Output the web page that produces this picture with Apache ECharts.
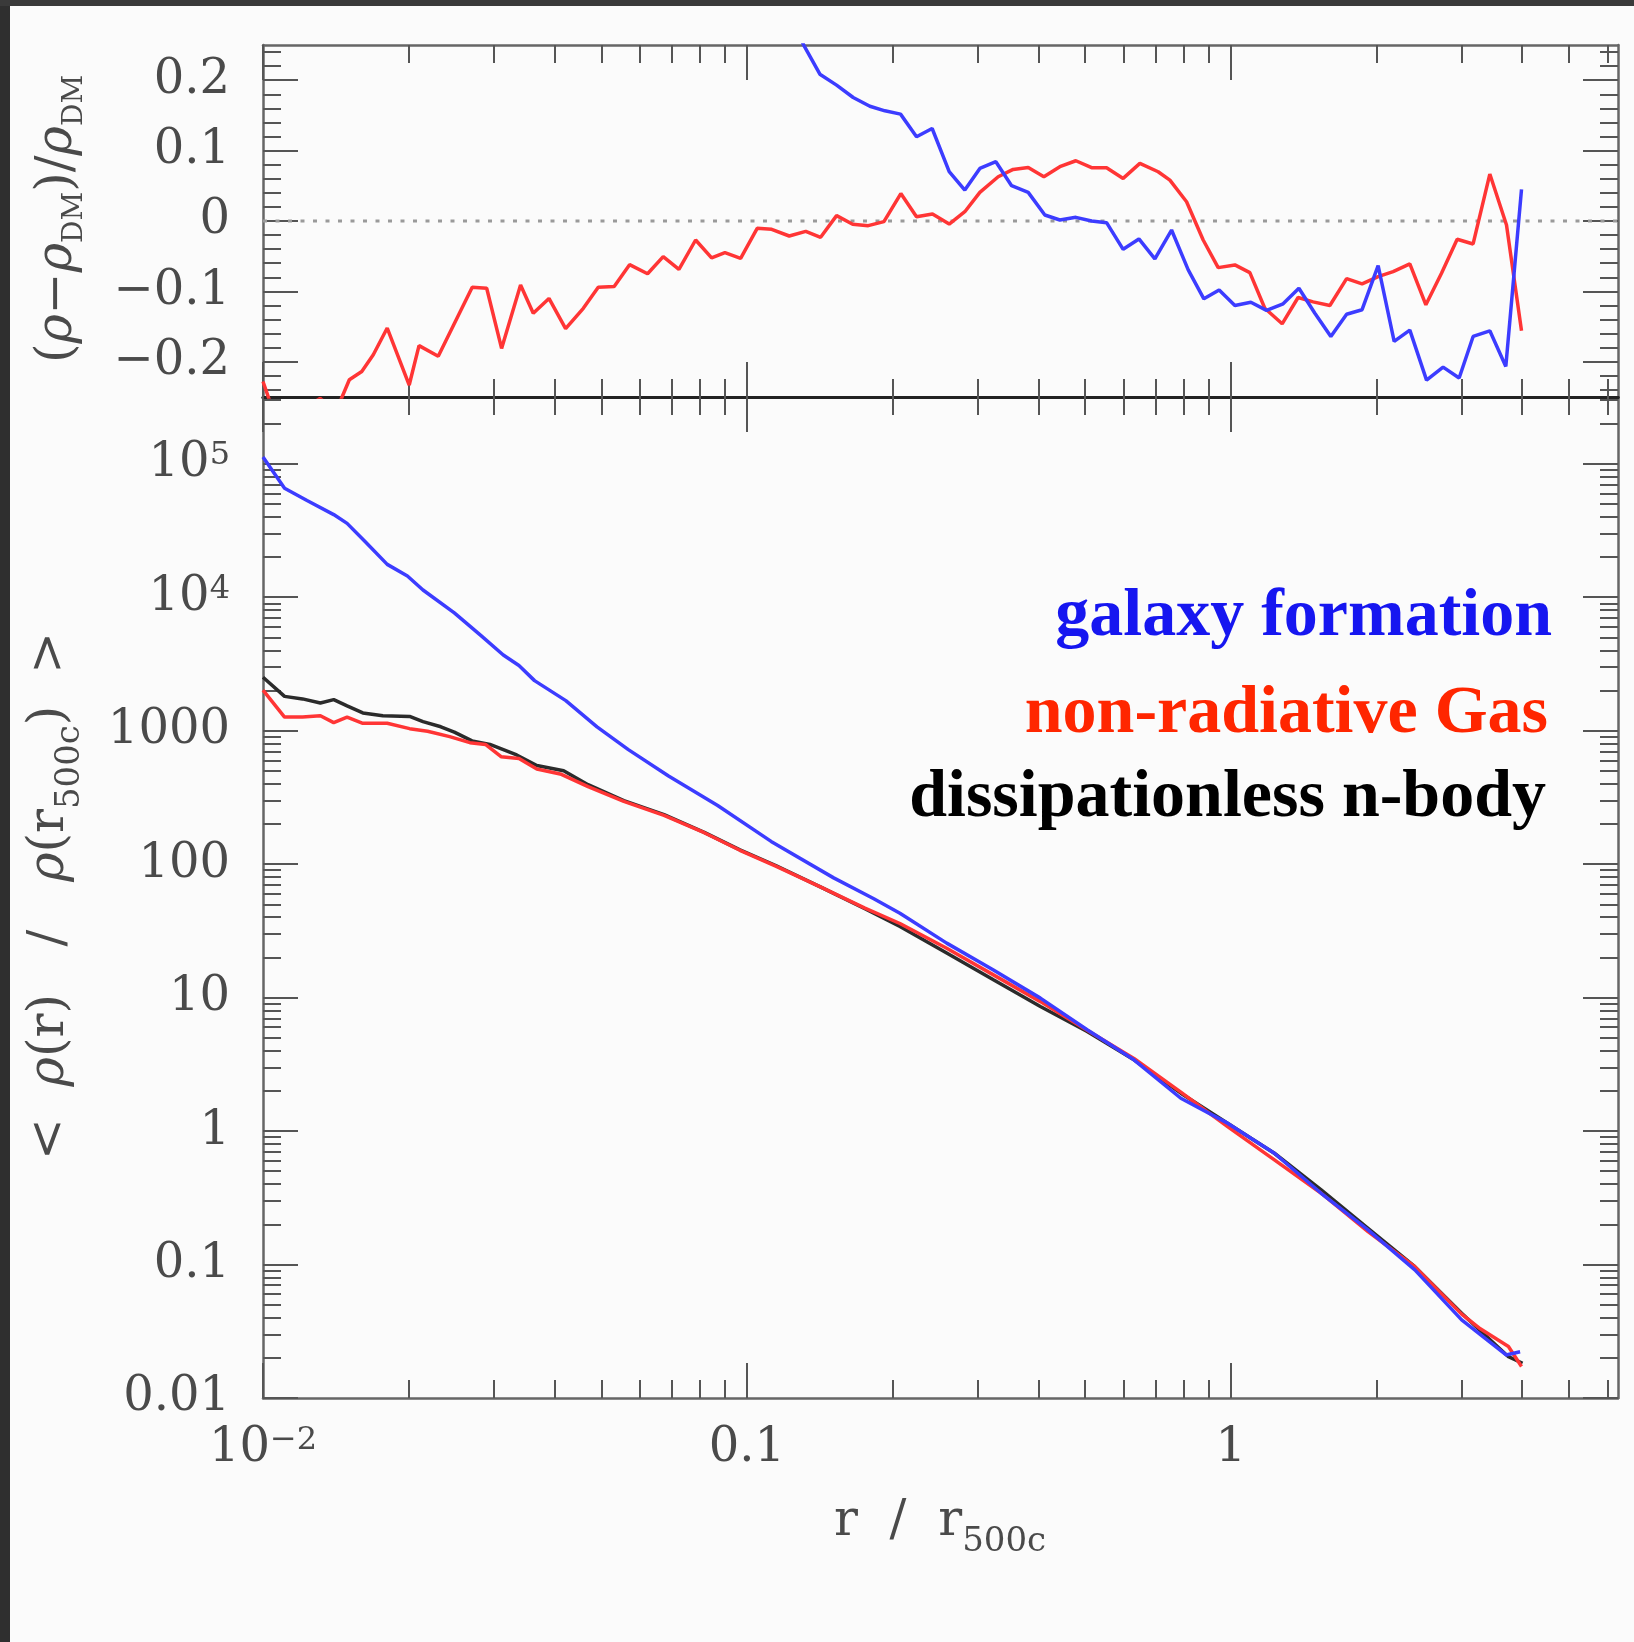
<!DOCTYPE html>
<html>
<head>
<meta charset="utf-8">
<script src="https://cdn.jsdelivr.net/npm/echarts@6/dist/echarts.min.js"></script>
<style>
html,body{margin:0;padding:0;background:#fbfbfb;}
#chart{width:1634px;height:1642px;}
</style>
</head>
<body>
<div id="chart"></div>
<script>
// ---------------- data ----------------
// upper panel: (rho - rho_DM)/rho_DM
const ratioGasR = [0.0100, 0.01074, 0.01192, 0.01312, 0.01416, 0.01508, 0.01600, 0.01690, 0.01806, 0.02005, 0.02101, 0.02302, 0.02706, 0.02899, 0.03112, 0.03406, 0.03618, 0.03899, 0.04220, 0.04591, 0.04929, 0.05317, 0.05721, 0.06233, 0.06714, 0.07236, 0.07834, 0.08453, 0.09006, 0.09705, 0.1050, 0.1125, 0.1223, 0.1323, 0.1420, 0.1532, 0.1654, 0.1781, 0.1919, 0.2080, 0.2241, 0.2418, 0.2618, 0.2820, 0.3029, 0.3305, 0.3549, 0.3813, 0.4108, 0.4432, 0.4783, 0.5155, 0.5536, 0.5990, 0.6486, 0.7075, 0.7482, 0.8100, 0.8766, 0.9415, 1.0193, 1.0946, 1.1753, 1.2764, 1.377, 1.4791, 1.6018, 1.7346, 1.8670, 2.0153, 2.1643, 2.3434, 2.5292, 2.7245, 2.9355, 3.1667, 3.4287, 3.7119, 3.9866];
const ratioGas = [-0.228, -0.29, -0.27, -0.252, -0.27, -0.2255, -0.2137, -0.19, -0.152, -0.233, -0.177, -0.192, -0.094, -0.0955, -0.181, -0.091, -0.131, -0.110, -0.153, -0.124, -0.094, -0.093, -0.062, -0.075, -0.0506, -0.0686, -0.027, -0.0525, -0.045, -0.053, -0.0104, -0.0118, -0.0213, -0.0147, -0.0232, 0.0076, -0.0047, -0.0066, -0.0009, 0.039, 0.0061, 0.0099, -0.0043, 0.0132, 0.0407, 0.0629, 0.0733, 0.0761, 0.0629, 0.0771, 0.0856, 0.0757, 0.0757, 0.0605, 0.0818, 0.070, 0.058, 0.0274, -0.027, -0.0662, -0.0624, -0.0733, -0.1239, -0.146, -0.1087, -0.1149, -0.120, -0.0818, -0.0894, -0.079, -0.0719, -0.061, -0.119, -0.0742, -0.026, -0.0326, 0.0667, -0.0057, -0.156];

const ratioGalR = [0.1210, 0.1311, 0.1415, 0.1532, 0.1658, 0.1795, 0.1928, 0.2077, 0.2241, 0.2414, 0.2618, 0.2820, 0.3029, 0.3269, 0.3523, 0.3813, 0.4127, 0.4432, 0.4783, 0.5155, 0.5536, 0.5990, 0.6457, 0.6966, 0.7542, 0.8164, 0.8795, 0.9458, 1.0193, 1.0998, 1.1852, 1.2823, 1.3823, 1.4914, 1.6092, 1.7346, 1.867, 2.0153, 2.1749, 2.3434, 2.5374, 2.7453, 2.9632, 3.1667, 3.4287, 3.6999, 3.9866];
const ratioGal = [0.30, 0.2496, 0.2085, 0.193, 0.1754, 0.163, 0.1565, 0.1518, 0.1196, 0.1314, 0.070, 0.044, 0.0747, 0.0842, 0.0501, 0.0407, 0.0085, 0.0014, 0.0052, 0.0, -0.0024, -0.0402, -0.0255, -0.0539, -0.0128, -0.0695, -0.1106, -0.0979, -0.120, -0.1154, -0.127, -0.1177, -0.0955, -0.131, -0.164, -0.1324, -0.126, -0.0634, -0.171, -0.155, -0.226, -0.2076, -0.223, -0.164, -0.156, -0.2066, 0.0449];

// lower panel: <rho(r)/rho(r500c)>
const nbodyR = [0.0100, 0.01108, 0.01207, 0.01314, 0.01400, 0.01492, 0.01608, 0.01769, 0.02009, 0.02141, 0.02331, 0.02485, 0.02704, 0.02944, 0.03344, 0.03680, 0.04181, 0.04696, 0.05567, 0.06741, 0.08162, 0.09672, 0.1147, 0.1418, 0.1753, 0.2071, 0.2587, 0.3231, 0.4040, 0.5047, 0.6306, 0.7882, 0.9844, 1.2301, 1.5369, 1.9205, 2.3999, 2.9988, 3.7462, 4.006];
const nbody = [2512, 1807, 1730, 1611, 1710, 1535, 1358, 1294, 1279, 1169, 1069, 975, 838, 789, 658, 548, 501, 394, 299, 235, 173, 128, 97.7, 67.6, 46.3, 34.1, 21.6, 13.6, 8.57, 5.57, 3.42, 1.923, 1.146, 0.682, 0.362, 0.187, 0.0964, 0.0432, 0.0204, 0.0182];

const gasR = [0.0100, 0.01108, 0.01207, 0.01314, 0.01400, 0.01492, 0.01608, 0.01806, 0.02009, 0.02188, 0.02431, 0.02676, 0.02882, 0.03104, 0.03380, 0.03680, 0.04135, 0.04696, 0.05567, 0.06741, 0.08162, 0.09672, 0.1147, 0.1418, 0.1753, 0.2071, 0.2587, 0.3231, 0.4040, 0.5047, 0.6306, 0.7882, 0.9844, 1.2301, 1.5369, 1.9205, 2.3999, 2.9988, 3.2772, 3.7462, 3.9866];
const gas = [2014, 1265, 1265, 1294, 1148, 1265, 1135, 1135, 1035, 991, 902, 813, 789, 638, 619, 516, 471, 381, 295, 232, 172, 127, 96.6, 67.6, 46.8, 35.9, 23.4, 14.8, 9.33, 5.69, 3.50, 1.96, 1.081, 0.608, 0.342, 0.1766, 0.0964, 0.0425, 0.0330, 0.0243, 0.0172];

const galR = [0.0100, 0.01108, 0.01233, 0.01400, 0.01492, 0.01625, 0.01806, 0.01988, 0.02141, 0.02485, 0.02822, 0.03137, 0.03380, 0.03640, 0.04224, 0.04900, 0.05688, 0.06887, 0.08700, 0.1122, 0.1511, 0.1829, 0.2071, 0.2587, 0.3231, 0.4040, 0.5047, 0.6306, 0.7882, 0.9844, 1.2301, 1.5369, 1.9205, 2.3999, 2.9988, 3.7061, 3.9601];
const gal = [112200, 65460, 52970, 41590, 35730, 26120, 17620, 14420, 11320, 7621, 5152, 3690, 3076, 2371, 1679, 1069, 721, 458, 275, 148, 78.9, 55.0, 42.9, 25.6, 16.1, 9.91, 5.74, 3.42, 1.762, 1.146, 0.682, 0.342, 0.1816, 0.0912, 0.0385, 0.0210, 0.0222];

// tick labels
const xTicks = [0.01, 0.1, 1];
const xTickLabels = ['10|\u22122', '0.1', '1'];
const ratioTicks = [-0.2, -0.1, 0, 0.1, 0.2];
const ratioTickLabels = ['\u22120.2', '\u22120.1', '0', '0.1', '0.2'];
const densTicks = [0.01, 0.1, 1, 10, 100, 1000, 1e4, 1e5];
const densTickLabels = ['0.01', '0.1', '1', '10', '100', '1000', '10|4', '10|5'];

const seriesNames = ['galaxy formation', 'non-radiative Gas', 'dissipationless n-body'];

// ---------------- chart ----------------
const XMIN = 0.01, XMAX = Math.pow(10, 0.8);
const YMIN = 0.01, YMAX = Math.pow(10, 5.5);
const RMIN = -0.25, RMAX = 0.25;

const xMinor = [];
[-2, -1, 0].forEach(k => { for (let m = 2; m <= 9; m++) { const v = m * Math.pow(10, k); if (v <= XMAX) xMinor.push(+v.toPrecision(6)); } });
const yMinor = [];
for (let k = -2; k <= 5; k++) { for (let m = 2; m <= 9; m++) { const v = m * Math.pow(10, k); if (v <= YMAX) yMinor.push(+v.toPrecision(6)); } }
const rMinor = [];
for (let i = -12; i <= 12; i++) { if (i % 5 !== 0) rMinor.push(+(i * 0.02).toFixed(2)); }

const FONT = '"DejaVu Serif", serif';
const TXT = '#4a4a4a';
const TICK = '#555';
const MAJ = 35, MIN = 18;

function fmt(ticks, labels) {
  return function (v) {
    let best = 0, bd = Infinity;
    ticks.forEach((t, i) => {
      const d = t === 0 ? Math.abs(v) : Math.abs(v / t - 1);
      if (d < bd) { bd = d; best = i; }
    });
    const s = labels[best];
    if (s.indexOf('|') >= 0) { const p = s.split('|'); return '{m|' + p[0] + '}{p|' + p[1] + '}'; }
    return '{m|' + s + '}';
  };
}
const labelRich = {
  m: { fontFamily: FONT, fontSize: 48, color: TXT, lineHeight: 70 },
  p: { fontFamily: FONT, fontSize: 32, color: TXT, padding: [0, 0, 16, 0] }
};

function axis(kind, opt) {
  const a = {
    type: opt.type, gridIndex: opt.grid, position: opt.pos,
    min: opt.min, max: opt.max,
    axisLine: opt.line ? { show: true, onZero: false, lineStyle: { color: opt.line.color, width: opt.line.width } } : { show: false, onZero: false },
    splitLine: { show: false },
    axisTick: { show: true, inside: true, length: opt.len, customValues: opt.ticks, lineStyle: { color: TICK, width: 2 } },
    axisLabel: opt.labels ? {
      show: true, customValues: opt.labels.ticks, formatter: fmt(opt.labels.ticks, opt.labels.text),
      margin: opt.labels.margin, rich: labelRich, fontFamily: FONT, fontSize: 48, color: TXT
    } : { show: false },
    silent: true
  };
  if (opt.type === 'log') a.logBase = 10;
  return a;
}

const edge = { color: '#666', width: 2.5 };
const mid = { color: '#222', width: 3 };

const xAxes = [
  axis('x', { type: 'log', grid: 0, pos: 'bottom', min: XMIN, max: XMAX, len: MAJ, ticks: xTicks, line: mid }),
  axis('x', { type: 'log', grid: 0, pos: 'bottom', min: XMIN, max: XMAX, len: MIN, ticks: xMinor }),
  axis('x', { type: 'log', grid: 0, pos: 'top', min: XMIN, max: XMAX, len: MAJ, ticks: xTicks, line: edge }),
  axis('x', { type: 'log', grid: 0, pos: 'top', min: XMIN, max: XMAX, len: MIN, ticks: xMinor }),
  axis('x', { type: 'log', grid: 1, pos: 'bottom', min: XMIN, max: XMAX, len: MAJ, ticks: xTicks, line: edge,
    labels: { ticks: xTicks, text: xTickLabels, margin: 16 } }),
  axis('x', { type: 'log', grid: 1, pos: 'bottom', min: XMIN, max: XMAX, len: MIN, ticks: xMinor }),
  axis('x', { type: 'log', grid: 1, pos: 'top', min: XMIN, max: XMAX, len: MAJ, ticks: xTicks, line: mid }),
  axis('x', { type: 'log', grid: 1, pos: 'top', min: XMIN, max: XMAX, len: MIN, ticks: xMinor })
];
const yAxes = [
  axis('y', { type: 'value', grid: 0, pos: 'left', min: RMIN, max: RMAX, len: MAJ, ticks: ratioTicks, line: edge,
    labels: { ticks: ratioTicks, text: ratioTickLabels, margin: 33 } }),
  axis('y', { type: 'value', grid: 0, pos: 'left', min: RMIN, max: RMAX, len: MIN, ticks: rMinor }),
  axis('y', { type: 'value', grid: 0, pos: 'right', min: RMIN, max: RMAX, len: MAJ, ticks: ratioTicks, line: edge }),
  axis('y', { type: 'value', grid: 0, pos: 'right', min: RMIN, max: RMAX, len: MIN, ticks: rMinor }),
  axis('y', { type: 'log', grid: 1, pos: 'left', min: YMIN, max: YMAX, len: MAJ, ticks: densTicks, line: edge,
    labels: { ticks: densTicks, text: densTickLabels, margin: 33 } }),
  axis('y', { type: 'log', grid: 1, pos: 'left', min: YMIN, max: YMAX, len: MIN, ticks: yMinor }),
  axis('y', { type: 'log', grid: 1, pos: 'right', min: YMIN, max: YMAX, len: MAJ, ticks: densTicks, line: edge }),
  axis('y', { type: 'log', grid: 1, pos: 'right', min: YMIN, max: YMAX, len: MIN, ticks: yMinor })
];

function pairs(xs, ys) { return xs.map((x, i) => [x, ys[i]]); }
function lineSeries(name, xi, yi, data, color, z) {
  return { name, type: 'line', xAxisIndex: xi, yAxisIndex: yi, data, showSymbol: false, symbol: 'none',
    lineStyle: { color, width: 3.5 }, itemStyle: { color }, clip: true, z, silent: true, animation: false };
}

const BLUE = '#3c3cff', RED = '#ff3535', BLACK = '#2b2b2b';

const option = {
  backgroundColor: '#fbfbfb',
  animation: false,
  grid: [
    { left: 263, top: 45, width: 1355, height: 352, containLabel: false },
    { left: 263, top: 397, width: 1355, height: 1001, containLabel: false }
  ],
  xAxis: xAxes,
  yAxis: yAxes,
  series: [
    { name: 'zero', type: 'line', xAxisIndex: 0, yAxisIndex: 0, data: [[XMIN, 0], [XMAX, 0]], symbol: 'none',
      lineStyle: { color: '#9a9a9a', width: 3, type: [4, 8.5] }, silent: true, z: 1 },
    lineSeries(seriesNames[1], 0, 0, pairs(ratioGasR, ratioGas), RED, 3),
    lineSeries(seriesNames[0], 0, 0, pairs(ratioGalR, ratioGal), BLUE, 4),
    lineSeries(seriesNames[2], 4, 4, pairs(nbodyR, nbody), BLACK, 2),
    lineSeries(seriesNames[1], 4, 4, pairs(gasR, gas), RED, 3),
    lineSeries(seriesNames[0], 4, 4, pairs(galR, gal), BLUE, 4)
  ],
  graphic: [
    { type: 'rect', left: 0, top: 0, shape: { width: 10, height: 1642 }, style: { fill: '#2f2f2f' }, silent: true },
    { type: 'rect', left: 0, top: 0, shape: { width: 1634, height: 6 }, style: { fill: '#3a3a3a' }, silent: true },
    // x axis title
    { type: 'text', x: 940, y: 1522, silent: true,
      style: { text: '{a|r  /  r}{s|500c}', align: 'center', verticalAlign: 'middle',
        rich: { a: { fontFamily: FONT, fontSize: 50, fill: TXT }, s: { fontFamily: FONT, fontSize: 34, fill: TXT, padding: [40, 0, 0, 0] } } } },
    // lower y title
    { type: 'text', x: 50, y: 896, rotation: Math.PI / 2, silent: true,
      style: { text: '{t|<  }{g|\u03c1}{t|(r)   /   }{g|\u03c1}{t|(r}{s|500c}{t|)  >}', align: 'center', verticalAlign: 'middle',
        rich: { t: { fontFamily: FONT, fontSize: 50, fill: TXT }, g: { fontFamily: FONT, fontStyle: 'italic', fontSize: 50, fill: TXT },
          s: { fontFamily: FONT, fontSize: 34, fill: TXT, padding: [40, 0, 0, 0] } } } },
    // upper y title
    { type: 'text', x: 58, y: 219, rotation: Math.PI / 2, silent: true,
      style: { text: '{t|(}{g|\u03c1}{t|\u2212}{g|\u03c1}{s|DM}{t|)/}{g|\u03c1}{s|DM}', align: 'center', verticalAlign: 'middle',
        rich: { t: { fontFamily: FONT, fontSize: 50, fill: TXT }, g: { fontFamily: FONT, fontStyle: 'italic', fontSize: 50, fill: TXT },
          s: { fontFamily: FONT, fontSize: 28, fill: TXT, padding: [34, 0, 0, 0] } } } },
    // legend-like labels
    { type: 'text', x: 1552, y: 617, silent: true,
      style: { text: seriesNames[0], align: 'right', verticalAlign: 'middle', fontFamily: '"Liberation Serif", serif', fontWeight: 'bold', fontSize: 68, fill: '#1616f0' } },
    { type: 'text', x: 1548, y: 714, silent: true,
      style: { text: seriesNames[1], align: 'right', verticalAlign: 'middle', fontFamily: '"Liberation Serif", serif', fontWeight: 'bold', fontSize: 68, fill: '#ff2600' } },
    { type: 'text', x: 1546, y: 798, silent: true,
      style: { text: seriesNames[2], align: 'right', verticalAlign: 'middle', fontFamily: '"Liberation Serif", serif', fontWeight: 'bold', fontSize: 68, fill: '#000' } }
  ]
};

const chart = echarts.init(document.getElementById('chart'), null, { renderer: 'canvas', width: 1634, height: 1642 });
chart.setOption(option);
</script>
</body>
</html>
